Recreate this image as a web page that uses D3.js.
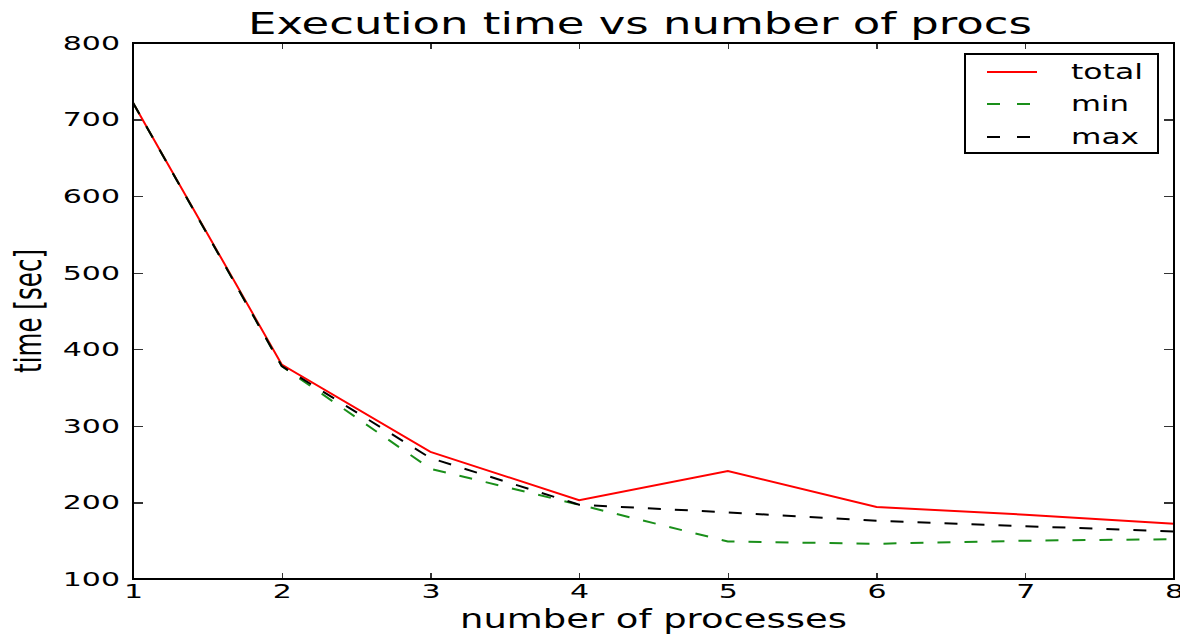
<!DOCTYPE html>
<meta charset="utf-8"/>
<head>
<script src="https://d3js.org/d3.v7.min.js"></script>
<style>
body { margin: 0; background: #fff; }
svg { background: #fff; }
text { font-family: 'DejaVu Sans'; fill: #000; }
.axis path { display: none; }
.axis line { stroke: #333; stroke-width: 1.2px; shape-rendering: crispEdges; }
.series { fill: none; stroke-width: 2px; }
</style>
</head>
<body>
<div id="chart"></div>
<script type="text/javascript">

// data
var procs = [1, 2, 3, 4, 5, 6, 7, 8];
var total = [722, 380, 266, 203, 241, 194, 184, 172];
var minT  = [722, 378, 244, 197, 149, 146, 150, 152];
var maxT  = [722, 378, 258, 197, 187, 176, 169, 162];
var yTicks = [100, 200, 300, 400, 500, 600, 700, 800];
var xTicks = [1, 2, 3, 4, 5, 6, 7, 8];
var seriesNames = ["total", "min", "max"];

var W = 1180, H = 634;
var margin = { top: 43, right: 6, bottom: 55, left: 133 },
    width = 1174 - margin.left,
    height = 579 - margin.top;

// the reference looks stretched sideways, so text gets widened
var SX = 1.5;

var svg = d3.select("#chart").append("svg")
    .attr("width", W)
    .attr("height", H);

var g = svg.append("g")
    .attr("transform", "translate(" + margin.left + "," + margin.top + ")");

var x = d3.scaleLinear().domain([1, 8]).range([0, width]);
var y = d3.scaleLinear().domain([100, 800]).range([height, 0]);

function widen(sel, f) {
  sel.each(function() {
    var len = this.getComputedTextLength();
    d3.select(this).attr("textLength", len * f).attr("lengthAdjust", "spacingAndGlyphs");
  });
}

// axes, ticks pointing inward on every side
var xAxis = g.append("g").attr("class", "axis")
    .attr("transform", "translate(0," + height + ")")
    .call(d3.axisBottom(x).tickValues(xTicks).tickSize(-6).tickPadding(5).tickFormat(d3.format("d")));
var yAxis = g.append("g").attr("class", "axis")
    .call(d3.axisLeft(y).tickValues(yTicks).tickSize(-10).tickPadding(13).tickFormat(d3.format("d")));
g.append("g").attr("class", "axis")
    .call(d3.axisTop(x).tickValues(xTicks).tickSize(-6).tickFormat(""));
g.append("g").attr("class", "axis")
    .attr("transform", "translate(" + width + ",0)")
    .call(d3.axisRight(y).tickValues(yTicks).tickSize(-10).tickFormat(""));

g.selectAll(".axis text")
    .style("font-family", "DejaVu Sans")
    .style("font-size", "20px")
    .attr("fill", "#000");
widen(g.selectAll(".axis text"), SX);

// lines
var line = d3.line()
    .x(function(d) { return x(d[0]); })
    .y(function(d) { return y(d[1]); });

var series = [
  { name: seriesNames[0], values: total, color: "#ff0000", dash: null },
  { name: seriesNames[1], values: minT, color: "#1a8f1a", dash: "13,14" },
  { name: seriesNames[2], values: maxT, color: "#000000", dash: "13,14" }
];

g.selectAll(".series")
  .data(series)
  .enter().append("path")
    .attr("class", "series")
    .attr("stroke", function(d) { return d.color; })
    .attr("stroke-dasharray", function(d) { return d.dash; })
    .attr("d", function(d) { return line(procs.map(function(p, i) { return [p, d.values[i]]; })); });

// frame
g.append("rect")
    .attr("width", width)
    .attr("height", height)
    .attr("fill", "none")
    .attr("stroke", "#000")
    .attr("stroke-width", 2);

// legend
var lg = svg.append("g");
lg.append("rect")
    .attr("x", 965).attr("y", 54)
    .attr("width", 193).attr("height", 99)
    .attr("fill", "#fff")
    .attr("stroke", "#000")
    .attr("stroke-width", 2);

var legendRows = [72, 104, 137];
var legendWidths = [72, 58, 68];
series.forEach(function(s, i) {
  lg.append("line")
      .attr("x1", 987).attr("x2", 1037)
      .attr("y1", legendRows[i]).attr("y2", legendRows[i])
      .attr("stroke", s.color)
      .attr("stroke-width", 2)
      .attr("stroke-dasharray", s.dash ? "13,17" : null);
  lg.append("text")
      .attr("x", 1071)
      .attr("y", legendRows[i] + 7)
      .style("font-size", "22px")
      .attr("textLength", legendWidths[i])
      .attr("lengthAdjust", "spacingAndGlyphs")
      .text(s.name);
});

// title and axis labels
svg.append("text")
    .attr("x", 248).attr("y", 34)
    .style("font-size", "31px")
    .attr("textLength", 784)
    .attr("lengthAdjust", "spacingAndGlyphs")
    .text("Execution time vs number of procs");

svg.append("text")
    .attr("x", 653.5).attr("y", 628)
    .attr("text-anchor", "middle")
    .style("font-size", "26px")
    .attr("textLength", 387)
    .attr("lengthAdjust", "spacingAndGlyphs")
    .text("number of processes");

svg.append("text")
    .attr("transform", "translate(41,311) rotate(-90) scale(1,1.4)")
    .attr("text-anchor", "middle")
    .style("font-size", "26px")
    .attr("textLength", 124)
    .attr("lengthAdjust", "spacingAndGlyphs")
    .text("time [sec]");

</script>
</body>
